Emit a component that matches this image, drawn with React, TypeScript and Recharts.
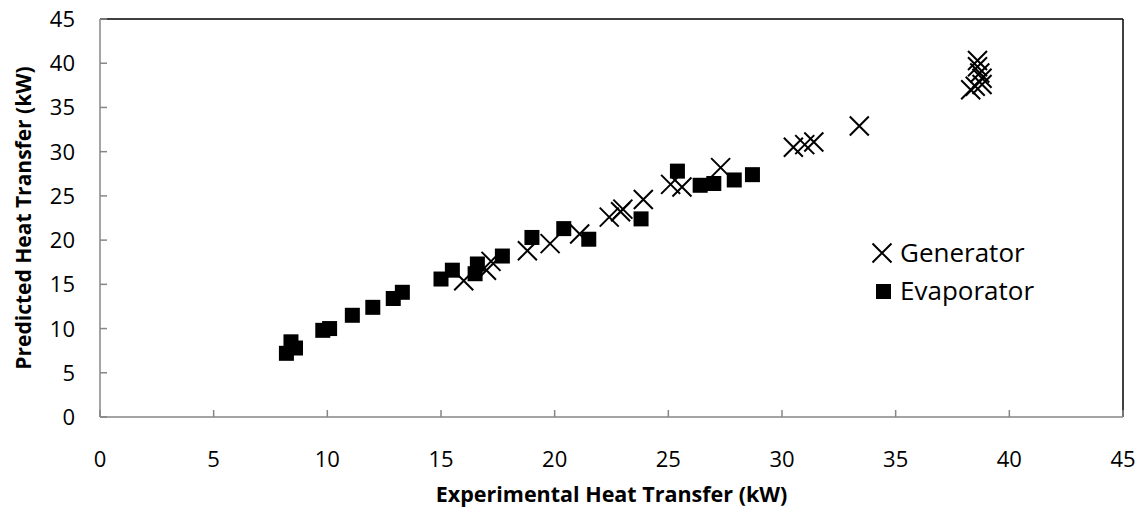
import {
  ScatterChart,
  Scatter,
  XAxis,
  YAxis,
  ReferenceLine,
} from "recharts";

const generatorX = [16.0, 17.0, 17.2, 18.8, 19.8, 21.1, 22.4, 22.9, 23.0, 23.9, 25.1, 25.6, 27.3, 30.5, 31.0, 31.4, 33.4, 38.3, 38.5, 38.8, 38.8, 38.7, 38.6, 38.6];
const generatorY = [15.4, 16.6, 17.6, 18.8, 19.6, 20.7, 22.6, 23.2, 23.5, 24.6, 26.3, 26.0, 28.2, 30.5, 30.8, 31.1, 32.9, 37.0, 37.4, 37.6, 38.3, 38.9, 39.6, 40.3];

const evaporatorX = [8.2, 8.6, 8.4, 9.8, 10.1, 11.1, 12.0, 12.9, 13.3, 15.0, 15.5, 16.5, 16.6, 17.7, 19.0, 20.4, 21.5, 23.8, 25.4, 26.4, 27.0, 27.9, 28.7];
const evaporatorY = [7.2, 7.8, 8.5, 9.8, 10.0, 11.5, 12.4, 13.4, 14.1, 15.6, 16.6, 16.2, 17.3, 18.2, 20.3, 21.3, 20.1, 22.4, 27.8, 26.2, 26.4, 26.8, 27.4];

const ticks = [0, 5, 10, 15, 20, 25, 30, 35, 40, 45];
const seriesNames = ["Generator", "Evaporator"];

const generator = generatorX.map((x, i) => ({ x, y: generatorY[i] }));
const evaporator = evaporatorX.map((x, i) => ({ x, y: evaporatorY[i] }));

const FONT = "'Open Sans', sans-serif";
const AXIS = "#868686";

function Cross(props: any) {
  const { cx, cy } = props;
  const r = 9.5;
  return (
    <path
      d={`M${cx - r},${cy - r}L${cx + r},${cy + r}M${cx - r},${cy + r}L${cx + r},${cy - r}`}
      stroke="#000"
      strokeWidth={2}
      fill="none"
    />
  );
}

function Square(props: any) {
  const { cx, cy } = props;
  return <rect x={cx - 7.5} y={cy - 7.5} width={15} height={15} fill="#000" />;
}

function XTick(props: any) {
  const { x, y, payload } = props;
  return (
    <g>
      <line x1={x} y1={y} x2={x} y2={y - 7} stroke={AXIS} strokeWidth={1.5} />
      <text x={x} y={y + 50} textAnchor="middle" fontSize={22} fill="#000" fontFamily={FONT}>
        {payload.value}
      </text>
    </g>
  );
}

function YTick(props: any) {
  const { x, y, payload } = props;
  return (
    <g>
      <line x1={x} y1={y} x2={x + 7} y2={y} stroke={AXIS} strokeWidth={1.5} />
      <text x={x - 25} y={y + 8} textAnchor="end" fontSize={22} fill="#000" fontFamily={FONT}>
        {payload.value}
      </text>
    </g>
  );
}

function LegendBox() {
  return (
    <svg
      width={260}
      height={90}
      style={{ position: "absolute", left: 860, top: 230, overflow: "visible" }}
    >
      <Cross cx={22} cy={23} />
      <text x={40} y={32} fontSize={26} fontFamily={FONT} fill="#000">
        {seriesNames[0]}
      </text>
      <rect x={16} y={54} width={15} height={15} fill="#000" />
      <text x={40} y={70} fontSize={26} fontFamily={FONT} fill="#000">
        {seriesNames[1]}
      </text>
    </svg>
  );
}

export default function App() {
  return (
    <div style={{ position: "absolute", left: 0, top: 0, width: 1143, height: 508, background: "#fff" }}>
      <ScatterChart
        width={1143}
        height={508}
        margin={{ top: 19, right: 20, left: 0, bottom: 0 }}
      >
        <XAxis
          type="number"
          dataKey="x"
          domain={[0, 45]}
          ticks={ticks}
          interval={0}
          height={91}
          tickSize={0}
          tickMargin={0}
          tickLine={false}
          stroke={AXIS}
          strokeWidth={1.5}
          tick={<XTick />}
          label={{
            value: "Experimental Heat Transfer (kW)",
            position: "insideBottom",
            offset: 6,
            style: { fontFamily: FONT, fontWeight: 700, fontSize: 21.5, fill: "#000" },
          }}
        />
        <YAxis
          type="number"
          dataKey="y"
          domain={[0, 45]}
          ticks={ticks}
          interval={0}
          width={100}
          tickSize={0}
          tickMargin={0}
          tickLine={false}
          stroke={AXIS}
          strokeWidth={1.5}
          tick={<YTick />}
          label={{
            value: "Predicted Heat Transfer (kW)",
            angle: -90,
            position: "insideLeft",
            offset: 24,
            style: { fontFamily: FONT, fontWeight: 700, fontSize: 21, fill: "#000", textAnchor: "middle" },
          }}
        />
        <ReferenceLine y={45} stroke="#000" strokeWidth={1.5} />
        <ReferenceLine x={45} stroke="#000" strokeWidth={1.5} />
        <Scatter
          name={seriesNames[0]}
          data={generator}
          shape={<Cross />}
          isAnimationActive={false}
        />
        <Scatter
          name={seriesNames[1]}
          data={evaporator}
          shape={<Square />}
          isAnimationActive={false}
        />
      </ScatterChart>
      <LegendBox />
    </div>
  );
}
